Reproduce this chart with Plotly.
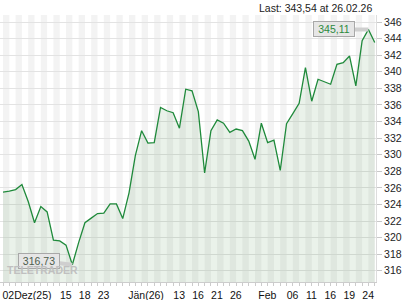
import plotly.graph_objects as go

# ---- data ----
dates = [
    "2025-12-02", "2025-12-03", "2025-12-04", "2025-12-05", "2025-12-08", "2025-12-09",
    "2025-12-10", "2025-12-11", "2025-12-12", "2025-12-15", "2025-12-16", "2025-12-17",
    "2025-12-18", "2025-12-19", "2025-12-22", "2025-12-23", "2025-12-24", "2025-12-29",
    "2025-12-30", "2025-12-31",
    "2026-01-02", "2026-01-05", "2026-01-06", "2026-01-07", "2026-01-08", "2026-01-09",
    "2026-01-12", "2026-01-13", "2026-01-14", "2026-01-15", "2026-01-16", "2026-01-19",
    "2026-01-20", "2026-01-21", "2026-01-22", "2026-01-23", "2026-01-26", "2026-01-27",
    "2026-01-28", "2026-01-29", "2026-01-30",
    "2026-02-02", "2026-02-03", "2026-02-04", "2026-02-05", "2026-02-06", "2026-02-09",
    "2026-02-10", "2026-02-11", "2026-02-12", "2026-02-13", "2026-02-16", "2026-02-17",
    "2026-02-18", "2026-02-19", "2026-02-20", "2026-02-23", "2026-02-24", "2026-02-25",
    "2026-02-26",
]
close = [
    325.50, 325.60, 325.80, 326.40, 324.35, 321.80, 323.75, 323.10, 319.70, 319.60,
    319.10, 316.73, 319.40, 321.80, 322.35, 322.90, 322.95, 324.07, 324.07, 322.30,
    325.40, 329.90, 332.90, 331.40, 331.46, 335.70, 335.30, 335.07, 333.20, 337.90,
    337.70, 335.20, 327.80, 332.90, 334.20, 333.80, 332.70, 333.10, 332.90, 331.65,
    329.45, 333.80, 331.45, 331.75, 328.10, 333.75, 334.95, 336.20, 340.50, 336.45,
    339.10, 338.80, 338.50, 340.90, 341.10, 341.90, 338.30, 343.75, 345.11, 343.54,
]
tick_dates = ["2025-12-02", "2025-12-15", "2025-12-18", "2025-12-23", "2026-01-02",
              "2026-01-13", "2026-01-16", "2026-01-21", "2026-01-26", "2026-02-02",
              "2026-02-06", "2026-02-11", "2026-02-16", "2026-02-19", "2026-02-24"]
tick_labels = ["02Dez(25)", "15", "18", "23", "Jän(26)", "13", "16", "21", "26",
               "Feb", "06", "11", "16", "19", "24"]
last_label = "Last: 343,54 at 26.02.26"


def fmt(v):
    return f"{v:.2f}".replace(".", ",")


# trading-day index axis (no gaps for weekends / holidays)
xs = list(range(len(dates)))
tick_pos = [dates.index(d) for d in tick_dates]

# labels start at their tick (left aligned): group by label length so that each
# group gets its own half-width shift on an overlaid axis
groups = {"x": [], "x2": [], "x3": []}
for p, t in zip(tick_pos, tick_labels):
    key = "x2" if len(t) >= 9 else ("x3" if len(t) >= 6 else "x")
    groups[key].append((p, t))
shift = {"x": 6, "x2": 24, "x3": 17}

hi_i = max(xs, key=lambda i: close[i])
lo_i = min(xs, key=lambda i: close[i])

fig = go.Figure()
fig.add_trace(go.Scatter(
    x=xs, y=close, mode="lines", customdata=dates,
    line=dict(color="#1f8a3b", width=1.3),
    fill="tozeroy", fillcolor="rgba(20,110,20,0.09)",
    hovertemplate="%{customdata}: %{y:.2f}<extra></extra>",
))
for ax_id in ("x2", "x3"):
    fig.add_trace(go.Scatter(x=xs, y=close, mode="none", xaxis=ax_id, yaxis="y",
                             hoverinfo="skip", showlegend=False))

# alternating day stripes (background)
shapes = []
for i in range(0, len(dates), 2):
    shapes.append(dict(type="rect", xref="x", yref="paper",
                       x0=i, x1=i + 1, y0=0, y1=1,
                       fillcolor="#f3f3f3", line=dict(width=0), layer="below"))

font = "Liberation Sans, Arial, sans-serif"
annotations = [
    dict(text=last_label, xref="paper", yref="paper", x=1, y=1,
         xanchor="right", yanchor="middle", xshift=-2, yshift=7.5,
         showarrow=False, font=dict(family=font, size=10.5, color="#222")),
    dict(text=fmt(close[hi_i]), x=xs[hi_i], y=close[hi_i], xref="x", yref="y",
         ax=-34, ay=0, showarrow=True, arrowhead=0, arrowwidth=4,
         arrowcolor="#cfcfcf", standoff=0,
         bgcolor="#e6e6e6", bordercolor="#a8a8a8", borderwidth=1, borderpad=1,
         width=38, font=dict(family=font, size=10.5, color="#2b8a3e")),
    dict(text=fmt(close[lo_i]), x=xs[lo_i], y=close[lo_i], xref="x", yref="y",
         ax=-33, ay=-4, showarrow=True, arrowhead=0, arrowwidth=4,
         arrowcolor="#cfcfcf", standoff=0,
         bgcolor="#e6e6e6", bordercolor="#a8a8a8", borderwidth=1, borderpad=1,
         width=38, font=dict(family=font, size=10.5, color="#4d5d4d")),
    dict(text="<b>TELETRADER</b>", xref="paper", yref="paper", x=5 / 376, y=0.045,
         xanchor="left", yanchor="middle", showarrow=False,
         font=dict(family="Liberation Sans Narrow, Liberation Sans, Arial", size=10.5,
                   color="#c0c0c0")),
]

xrange = [-0.48, 59.2]


def xaxis_for(key, **extra):
    return dict(range=xrange, tickmode="array",
                tickvals=[p for p, _ in groups[key]],
                ticktext=[t for _, t in groups[key]],
                ticklabelshift=shift[key], ticklabeloverflow="allow",
                tickangle=0, automargin=False,
                ticks="outside", ticklen=3, tickcolor="#cccccc",
                showgrid=False, zeroline=False,
                tickfont=dict(family=font, size=10.5, color="#111"), **extra)


fig.update_layout(
    width=420, height=300,
    margin=dict(l=0, r=44, t=15, b=18, autoexpand=False),
    paper_bgcolor="white", plot_bgcolor="white",
    showlegend=False,
    shapes=shapes,
    annotations=annotations,
    xaxis=xaxis_for("x", showline=True, linecolor="#cccccc",
                    minor=dict(tickmode="linear", tick0=0, dtick=1, ticks="outside",
                               ticklen=3, tickcolor="#cccccc", showgrid=False)),
    xaxis2=xaxis_for("x2", overlaying="x", anchor="y", side="bottom", showline=False),
    xaxis3=xaxis_for("x3", overlaying="x", anchor="y", side="bottom", showline=False),
    yaxis=dict(side="right", range=[314.65, 346.85], tick0=316, dtick=2,
               automargin=False,
               ticks="outside", ticklen=5, tickcolor="#c8c8c8",
               showline=True, linecolor="#dddddd",
               gridcolor="#e3e3e3", gridwidth=1, zeroline=False,
               tickfont=dict(family=font, size=10.5, color="#222")),
)

fig.write_html("out.html")
